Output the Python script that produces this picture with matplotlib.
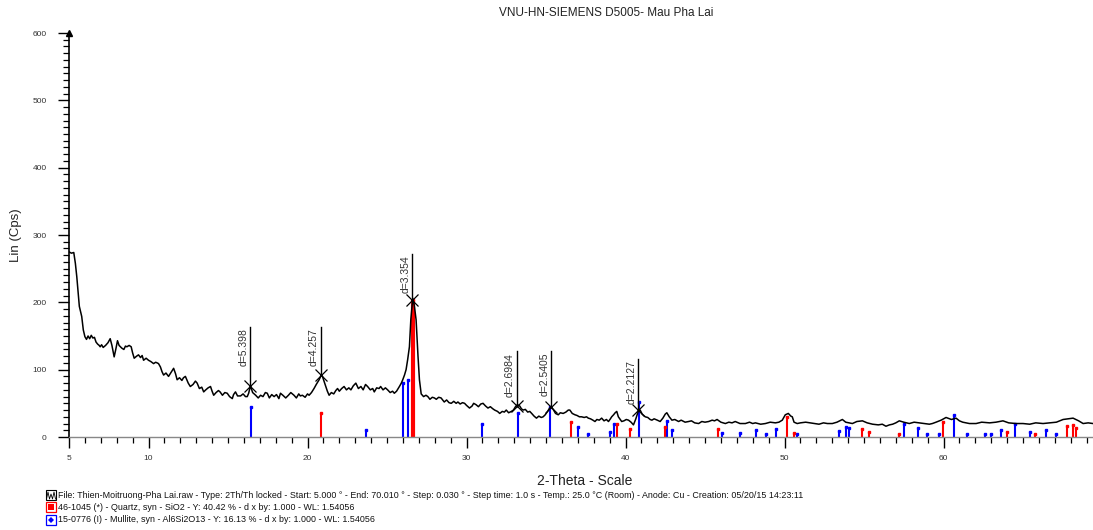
import matplotlib
matplotlib.use("Agg")
import matplotlib.pyplot as plt
from matplotlib.patches import Rectangle, Polygon
from matplotlib.lines import Line2D

plt.rcParams['font.family'] = ['Liberation Sans', 'DejaVu Sans']

two_theta = [5.00, 5.15, 5.30, 5.40, 5.49, 5.57, 5.65, 5.80, 5.90, 6.00, 6.10, 6.20, 6.30, 6.40,
             6.50, 6.60, 6.70, 6.80, 6.90, 6.96, 7.05, 7.15, 7.30, 7.45, 7.59, 7.70, 7.84, 7.95,
             8.05, 8.15, 8.32, 8.45, 8.55, 8.64, 8.78, 8.91, 9.00, 9.10, 9.25, 9.37, 9.50, 9.60,
             9.69, 9.85, 10.00, 10.15, 10.32, 10.45, 10.55, 10.63, 10.75, 10.85, 10.95, 11.10,
             11.26, 11.45, 11.58, 11.70, 11.80, 11.95, 12.10, 12.20, 12.32, 12.50, 12.63, 12.80,
             12.95, 13.06, 13.20, 13.35, 13.47, 13.60, 13.75, 13.90, 14.00, 14.10, 14.25, 14.40,
             14.50, 14.65, 14.80, 14.95, 15.10, 15.27, 15.35, 15.47, 15.60, 15.79, 15.95, 16.10,
             16.21, 16.30, 16.41, 16.55, 16.74, 16.90, 17.05, 17.20, 17.35, 17.47, 17.60, 17.75,
             17.90, 18.05, 18.20, 18.30, 18.45, 18.63, 18.80, 18.95, 19.15, 19.30, 19.45, 19.55,
             19.68, 19.85, 20.00, 20.10, 20.25, 20.41, 20.55, 20.73, 20.87, 20.94, 21.05, 21.15,
             21.25, 21.36, 21.50, 21.65, 21.78, 21.89, 22.00, 22.15, 22.30, 22.45, 22.60, 22.73,
             22.88, 23.04, 23.20, 23.36, 23.50, 23.65, 23.78, 23.95, 24.10, 24.20, 24.35, 24.50,
             24.60, 24.75, 24.90, 25.04, 25.20, 25.35, 25.46, 25.60, 25.78, 25.90, 25.99, 26.10,
             26.20, 26.30, 26.41, 26.50, 26.62, 26.72, 26.83, 26.95, 27.04, 27.15, 27.30, 27.45,
             27.57, 27.70, 27.85, 27.98, 28.10, 28.25, 28.40, 28.50, 28.60, 28.75, 28.90, 29.04,
             29.20, 29.35, 29.46, 29.60, 29.75, 29.88, 30.00, 30.19, 30.35, 30.45, 30.60, 30.75,
             30.90, 31.04, 31.20, 31.35, 31.50, 31.65, 31.77, 31.95, 32.09, 32.25, 32.38, 32.50,
             32.65, 32.82, 32.95, 33.08, 33.20, 33.35, 33.45, 33.56, 33.70, 33.85, 33.98, 34.10,
             34.25, 34.40, 34.55, 34.70, 34.82, 34.95, 35.10, 35.20, 35.32, 35.45, 35.60, 35.77,
             35.90, 36.08, 36.25, 36.40, 36.50, 36.65, 36.82, 36.95, 37.10, 37.24, 37.40, 37.55,
             37.66, 37.80, 37.95, 38.08, 38.20, 38.35, 38.50, 38.65, 38.80, 38.93, 39.05, 39.13,
             39.25, 39.35, 39.45, 39.55, 39.76, 39.90, 40.05, 40.19, 40.35, 40.50, 40.65, 40.80,
             40.92, 41.05, 41.24, 41.40, 41.55, 41.66, 41.80, 42.00, 42.18, 42.35, 42.50, 42.60,
             42.75, 42.92, 43.10, 43.34, 43.50, 43.75, 43.97, 44.15, 44.35, 44.60, 44.80, 45.00,
             45.23, 45.45, 45.60, 45.76, 46.00, 46.28, 46.50, 46.70, 46.90, 47.20, 47.54, 47.80,
             48.00, 48.17, 48.50, 48.80, 49.10, 49.43, 49.65, 49.86, 50.05, 50.24, 50.40, 50.49,
             50.60, 50.80, 51.00, 51.33, 51.60, 51.90, 52.17, 52.45, 52.70, 53.01, 53.30, 53.64,
             53.85, 54.05, 54.27, 54.55, 54.90, 55.20, 55.54, 55.90, 56.15, 56.38, 56.60, 56.80,
             57.00, 57.22, 57.50, 57.85, 58.15, 58.48, 58.80, 59.11, 59.30, 59.53, 59.85, 60.16,
             60.50, 60.79, 61.00, 61.21, 61.63, 62.05, 62.40, 62.90, 63.30, 63.74, 64.10, 64.56,
             65.00, 65.42, 65.80, 66.26, 66.70, 67.10, 67.52, 67.85, 68.15, 68.50, 68.78, 69.10,
             69.40, 70.00]
counts = [275, 273, 274, 258, 238, 215, 194, 179, 159, 149, 145, 150, 146, 151,
          147, 148, 141, 138, 136, 134, 137, 133, 136, 140, 146, 136, 119, 131,
          143, 136, 132, 130, 135, 134, 136, 134, 125, 117, 120, 122, 118, 121,
          114, 117, 114, 112, 109, 111, 110, 109, 104, 97, 92, 95,
          90, 97, 102, 94, 85, 88, 84, 88, 90, 80, 75, 78,
          83, 80, 72, 74, 67, 70, 73, 75, 68, 62, 66, 69,
          67, 62, 66, 65, 60, 57, 63, 67, 61, 61, 64, 60,
          60, 65, 76, 66, 62, 58, 62, 60, 66, 65, 58, 63,
          60, 63, 57, 65, 62, 58, 62, 66, 62, 58, 64, 61,
          62, 59, 64, 62, 66, 72, 78, 85, 92, 90, 82, 75,
          68, 62, 66, 64, 69, 72, 68, 72, 75, 70, 73, 70,
          76, 80, 72, 75, 70, 78, 75, 70, 72, 67, 73, 72,
          75, 70, 73, 70, 66, 68, 65, 68, 75, 80, 85, 92,
          100, 115, 134, 175, 206, 195, 174, 120, 85, 64, 60, 62,
          60, 56, 59, 58, 56, 59, 58, 55, 52, 55, 51, 50,
          53, 50, 52, 49, 51, 50, 47, 43, 46, 50, 48, 45,
          49, 50, 46, 43, 45, 42, 40, 38, 35, 38, 37, 40,
          36, 38, 40, 45, 48, 46, 42, 40, 41, 37, 38, 35,
          31, 28, 31, 29, 30, 33, 38, 42, 45, 41, 35, 33,
          36, 35, 37, 40, 40, 35, 33, 32, 30, 30, 29, 30,
          28, 27, 25, 23, 26, 25, 28, 24, 26, 23, 27, 30,
          33, 36, 38, 30, 23, 24, 26, 25, 22, 18, 27, 38,
          40, 34, 30, 29, 26, 25, 27, 25, 23, 28, 34, 36,
          30, 25, 26, 23, 25, 22, 23, 24, 21, 20, 23, 22,
          23, 25, 24, 26, 22, 20, 22, 21, 23, 20, 20, 22,
          20, 21, 19, 20, 22, 21, 22, 25, 33, 35, 31, 30,
          22, 20, 21, 22, 21, 20, 19, 21, 20, 20, 22, 26,
          22, 21, 20, 23, 24, 21, 19, 18, 19, 16, 18, 19,
          21, 24, 22, 20, 22, 21, 20, 19, 20, 22, 25, 29,
          26, 28, 24, 22, 20, 20, 22, 21, 22, 24, 21, 20,
          20, 19, 21, 20, 21, 22, 26, 27, 28, 24, 20, 21,
          20, 21]

# reference patterns (stick positions / heights)
quartz_pos = [20.87, 26.65, 36.55, 39.47, 40.30, 42.46, 45.80, 50.15, 50.62, 54.87, 55.33,
              57.23, 59.96, 63.99, 65.78, 67.74, 68.14, 68.32]
quartz_h = [36, 203, 22, 20, 12, 15, 12, 30, 6, 12, 7, 5, 22, 7, 5, 16, 18, 14]
mullite_pos = [16.43, 23.68, 26.02, 26.30, 30.96, 33.23, 35.27, 37.01, 37.62, 39.03, 39.25,
               40.87, 42.59, 42.93, 46.05, 47.22, 48.18, 48.85, 49.45, 50.80, 53.45, 53.87,
               54.08, 57.52, 58.38, 58.94, 59.72, 60.66, 61.46, 62.61, 62.99, 63.62, 64.50,
               65.44, 66.45, 67.08]
mullite_h = [44, 10, 80, 84, 20, 36, 44, 15, 5, 8, 20, 52, 24, 10, 6, 6, 10, 5, 12, 5, 9, 15,
             13, 20, 14, 5, 5, 33, 5, 5, 5, 10, 19, 8, 10, 5]

# d-spacing labels
peak_pos = [16.41, 20.85, 26.58, 33.17, 35.32, 40.80]
peak_lbl = ["d=5.398", "d=4.257", "d=3.354", "d=2.6984", "d=2.5405", "d=2.2127"]
peak_y = [76, 92, 204, 46, 45, 40]
peak_top = [163, 163, 272, 127, 127, 116]

W, H = 1093, 530
fig = plt.figure(figsize=(W / 100, H / 100), dpi=100)
ax = fig.add_axes([69 / W, (H - 437) / H, 1033.5 / W, 404 / H])

ax.plot(two_theta, counts, color="black", lw=1.1, zorder=3)

ax.vlines(mullite_pos, 0, mullite_h, color="#0000ff", lw=1.5, zorder=2)
ax.plot(mullite_pos, mullite_h, "s", color="#0000ff", ms=2.0, zorder=2)
ax.vlines(quartz_pos, 0, quartz_h, color="#ff0000", lw=1.5, zorder=2)
ax.vlines(quartz_pos[1], 0, quartz_h[1], color="#ff0000", lw=3, zorder=2)
ax.plot(quartz_pos, quartz_h, "s", color="#ff0000", ms=2.0, zorder=2)

for x, lbl, y, top in zip(peak_pos, peak_lbl, peak_y, peak_top):
    ax.plot([x, x], [y, top], color="black", lw=1.0, zorder=4)
    ax.plot(x, y, marker="x", color="black", ms=9, mew=0.9, zorder=4)
    ax.text(x - 0.12, top - 2, lbl, rotation=90, ha="right", va="top",
            fontsize=7.5, color="#333333", zorder=4)

ax.set_xlim(5, 70)
ax.set_ylim(0, 600)
for s in ["top", "right"]:
    ax.spines[s].set_visible(False)
ax.spines["left"].set_linewidth(1.2)
ax.spines["bottom"].set_color("#888888")
ax.spines["bottom"].set_linewidth(1.0)
ax.plot(5, 600, marker="^", color="black", ms=5, clip_on=False, zorder=5)

ax.set_xticks([5, 10, 20, 30, 40, 50, 60])
ax.set_xticks(range(5, 71), minor=True)
ax.set_yticks(range(0, 601, 100))
ax.set_yticks(range(0, 601, 10), minor=True)
ax.tick_params(axis="both", which="major", labelsize=6, labelcolor="#333333",
               length=8, width=1.0, direction="out")
ax.tick_params(axis="both", which="minor", length=4, width=0.9, direction="out")
ax.tick_params(axis="x", which="major", pad=5)
ax.tick_params(axis="y", which="major", pad=8)

fig.text(606 / W, 1 - 13 / H, "VNU-HN-SIEMENS D5005- Mau Pha Lai", ha="center", va="center",
         fontsize=8.5, color="#222222")
fig.text(16 / W, 1 - 235 / H, "Lin (Cps)", rotation=90, ha="center", va="center",
         fontsize=9.5, color="#222222")
fig.text(585 / W, 1 - 481 / H, "2-Theta - Scale", ha="center", va="center",
         fontsize=10, color="#222222")

# bottom legend
leg_lines = [
    "File: Thien-Moitruong-Pha Lai.raw - Type: 2Th/Th locked - Start: 5.000 \u00b0 - End: 70.010 \u00b0 - "
    "Step: 0.030 \u00b0 - Step time: 1.0 s - Temp.: 25.0 \u00b0C (Room) - Anode: Cu - Creation: 05/20/15 14:23:11",
    "46-1045 (*) - Quartz, syn - SiO2 - Y: 40.42 % - d x by: 1.000 - WL: 1.54056",
    "15-0776 (I) - Mullite, syn - Al6Si2O13 - Y: 16.13 % - d x by: 1.000 - WL: 1.54056",
]
leg_y = [495, 507, 520]
for txt, yy in zip(leg_lines, leg_y):
    fig.text(58 / W, 1 - yy / H, txt, ha="left", va="center", fontsize=6.4, color="#111111")

bw, bh = 10 / W, 10 / H
x0 = 46 / W
# icon 1: scan symbol
y1 = 1 - 500 / H
fig.patches.append(Rectangle((x0, y1), bw, bh, fill=False, ec="black", lw=0.8,
                             transform=fig.transFigure))
zx = [46.5, 48, 49.5, 51, 52.5, 54, 55.5]
zy = [499, 492, 499, 494, 499, 492, 499]
fig.lines.append(Line2D([v / W for v in zx], [1 - v / H for v in zy], color="black", lw=0.6,
                        transform=fig.transFigure))
# icon 2: quartz
y2 = 1 - 512 / H
fig.patches.append(Rectangle((x0, y2), bw, bh, fill=False, ec="#ff0000", lw=0.9,
                             transform=fig.transFigure))
fig.patches.append(Rectangle((48 / W, 1 - 510 / H), 6 / W, 6 / H, fc="#ff0000", ec="none",
                             transform=fig.transFigure))
# icon 3: mullite
y3 = 1 - 525 / H
fig.patches.append(Rectangle((x0, y3), bw, bh, fill=False, ec="#0000ff", lw=0.9,
                             transform=fig.transFigure))
dx, dy = 51 / W, 1 - 520 / H
fig.patches.append(Polygon([(dx - 3 / W, dy), (dx, dy + 3 / H), (dx + 3 / W, dy), (dx, dy - 3 / H)],
                           closed=True, fc="#0000ff", ec="none", transform=fig.transFigure))

fig.savefig("out.png", dpi=100)
